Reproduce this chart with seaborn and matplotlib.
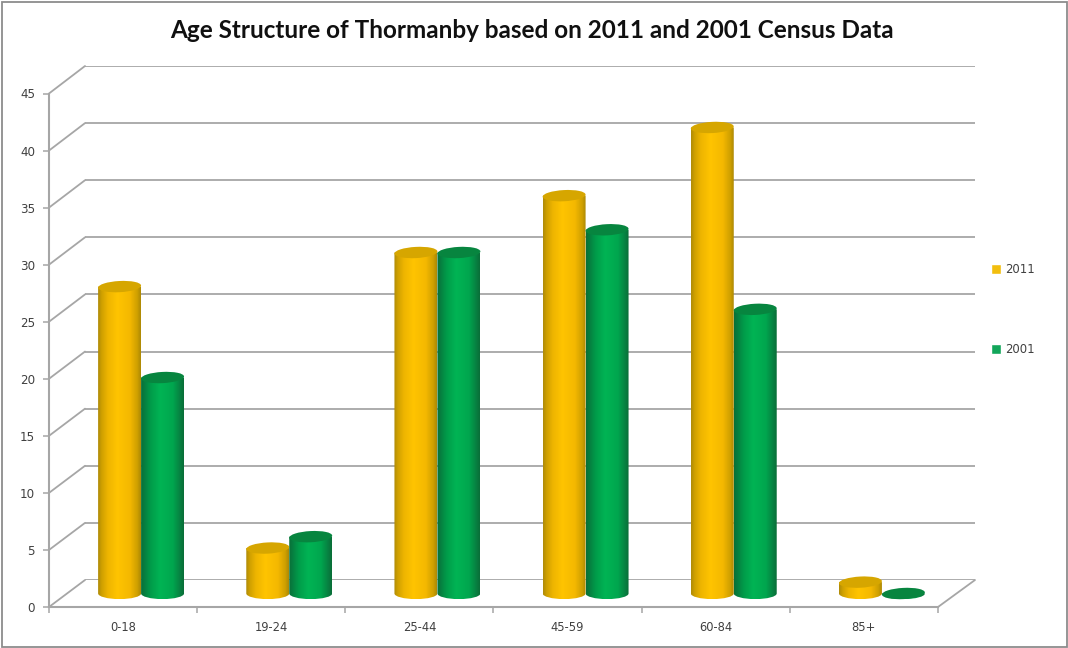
import numpy as np
import pandas as pd
import matplotlib
matplotlib.use("Agg")
import matplotlib.pyplot as plt
import seaborn as sns
from matplotlib.colors import LinearSegmentedColormap
from matplotlib.lines import Line2D
from matplotlib.patches import Ellipse, Rectangle
from matplotlib.path import Path
from matplotlib.transforms import IdentityTransform

# Census shares per age band
age_bands = ["0-18", "19-24", "25-44", "45-59", "60-84", "85+"]
share_2011 = [27, 4, 30, 35, 41, 1]
share_2001 = [19, 5, 30, 32, 25, 0]
census_years = ["2011", "2001"]
y_ticks = list(range(0, 50, 5))

title = "Age Structure of Thormanby based on 2011 and 2001 Census Data"

flat_colors = {"2011": "#F2BE0E", "2001": "#12A65A"}
top_colors = {"2011": "#D6A600", "2001": "#07853F"}
shading = {
    "2011": [(0.0, "#B08C08"), (0.08, "#CFA000"), (0.22, "#EDB400"), (0.45, "#FFC400"),
             (0.75, "#F4B800"), (0.92, "#CFA000"), (1.0, "#AE8A05")],
    "2001": [(0.0, "#0A7038"), (0.08, "#067F40"), (0.22, "#009C4A"), (0.45, "#00B454"),
             (0.75, "#00A64E"), (0.92, "#078041"), (1.0, "#0A6E38")],
}
GRID = "#A6A6A6"
TEXT = "#404040"

W, H = 1068, 648
sns.set_theme(style="white")
plt.rcParams["font.family"] = ["DejaVu Sans"]
fig = plt.figure(figsize=(W / 100, H / 100), dpi=100, facecolor="white")


def panel(left, top, right, bottom, z):
    """Axes placed by pixel edges, measured from the top-left corner."""
    ax = fig.add_axes([left / W, 1 - bottom / H, (right - left) / W, (bottom - top) / H],
                      facecolor="none", zorder=z)
    ax.set_ylim(0, 45)
    return ax


# Pseudo-3D depth: back wall, bar plane and front plane are offset copies of one scale
back = panel(85, 66, 975, 580, 0)
front = panel(49, 93.5, 938, 607, 1)
mid = panel(67, 82, 956, 593.5, 2)

table = pd.DataFrame({
    "band": age_bands * 2,
    "share": share_2011 + share_2001,
    "year": [census_years[0]] * 6 + [census_years[1]] * 6,
})
sns.barplot(data=table, x="band", y="share", hue="year", hue_order=census_years,
            palette=flat_colors, width=0.58, gap=0, saturation=1, ax=mid, legend=True)
legend_handles, legend_labels = mid.get_legend_handles_labels()
mid.get_legend().remove()
mid.set_xlim(-0.5, 5.5)
mid.set_ylim(0, 45)
mid.axis("off")
fig.canvas.draw()

# Replace each flat bar with a shaded cylinder built from its own geometry
ry = 5.6 / (511.5 / 45)
series = [census_years[0]] * 6 + [census_years[1]] * 6
for order, (bar, year) in enumerate(zip(list(mid.patches), series)):
    x0, w, h = bar.get_x(), bar.get_width(), bar.get_height()
    cx = x0 + w / 2
    z = 3 + order
    bar.set_visible(False)

    kappa = 0.5523
    rx = w / 2
    outline = Path(
        [(x0, h), (x0, 0), (x0, -kappa * ry), (cx - kappa * rx, -ry), (cx, -ry),
         (cx + kappa * rx, -ry), (x0 + w, -kappa * ry), (x0 + w, 0), (x0 + w, h), (x0, h)],
        [Path.MOVETO, Path.LINETO, Path.CURVE4, Path.CURVE4, Path.CURVE4,
         Path.CURVE4, Path.CURVE4, Path.CURVE4, Path.LINETO, Path.CLOSEPOLY],
    )
    cmap = LinearSegmentedColormap.from_list(year, shading[year])
    body = mid.imshow(np.linspace(0, 1, 64)[None, :], cmap=cmap, aspect="auto",
                      extent=(x0, x0 + w, -ry, max(h, ry)), interpolation="bilinear",
                      zorder=z)
    body.set_clip_box(fig.bbox)
    body.set_clip_path(outline, transform=mid.transData)

    # Cap drawn in pixels so its slight tilt is not skewed by the data scale
    centre = mid.transData.transform((cx, h))
    left_px = mid.transData.transform((x0, h))[0]
    right_px = mid.transData.transform((x0 + w, h))[0]
    mid.add_patch(Ellipse(centre, right_px - left_px, 11.2, angle=3,
                          facecolor=top_colors[year], edgecolor="none",
                          transform=IdentityTransform(), zorder=z + 0.5, clip_on=False))
mid.set_xlim(-0.5, 5.5)
mid.set_ylim(0, 45)

# Back wall gridlines and the diagonals that join them to the front axis
back.set_xlim(0, 1)
back.set_xticks([])
back.set_yticks(y_ticks)
back.tick_params(left=False, labelleft=False)
back.grid(axis="y", color=GRID, lw=1.3)
sns.despine(ax=back, left=True, bottom=True)
for value in y_ticks:
    a = front.transData.transform((0, value))
    b = back.transData.transform((0, value))
    fig.add_artist(Line2D([a[0], b[0]], [a[1], b[1]], color=GRID, lw=1.3,
                          transform=IdentityTransform(), zorder=0.5))
front.set_xlim(0, 1)
a = front.transData.transform((1, 0))
b = back.transData.transform((1, 0))
fig.add_artist(Line2D([a[0], b[0]], [a[1], b[1]], color=GRID, lw=1.3,
                      transform=IdentityTransform(), zorder=0.5))

# Front axis: value ticks on the left, band labels between the boundary ticks
front.set_xlim(-0.5, 5.5)
front.set_yticks(y_ticks)
front.set_yticklabels([str(v) for v in y_ticks])
front.set_xticks(range(len(age_bands)))
front.set_xticklabels(age_bands)
front.set_xticks(np.arange(-0.5, 6, 1), minor=True)
front.tick_params(axis="x", which="major", length=0, pad=10, labelsize=8.3, labelcolor=TEXT)
front.tick_params(axis="x", which="minor", length=4, width=1.1, color=GRID, bottom=True)
front.tick_params(axis="y", length=4, width=1.1, color=GRID, pad=6, labelsize=8.6,
                  labelcolor=TEXT, left=True)
sns.despine(ax=front, top=True, right=True)
for side in ("left", "bottom"):
    front.spines[side].set_color(GRID)
    front.spines[side].set_linewidth(1.5)

fig.legend(legend_handles, legend_labels, loc="upper left",
           bbox_to_anchor=(991 / W, 1 - 263 / H), frameon=False, fontsize=8.4,
           labelcolor=TEXT, labelspacing=5.75, handlelength=0.85, handleheight=0.85,
           handletextpad=0.4, borderpad=0, borderaxespad=0)

fig.text(532 / W, 1 - 30.5 / H, title, ha="center", va="center", color="#101010",
         fontsize=17.45, fontweight="bold", family="Lato")

# Thin outer frame
fig.add_artist(Rectangle((1.5 / W, 1.5 / H), (W - 3) / W, (H - 3) / H, fill=False,
                         edgecolor="#8C8C8C", lw=1.3, transform=fig.transFigure))

fig.savefig("out.png", dpi=100)
